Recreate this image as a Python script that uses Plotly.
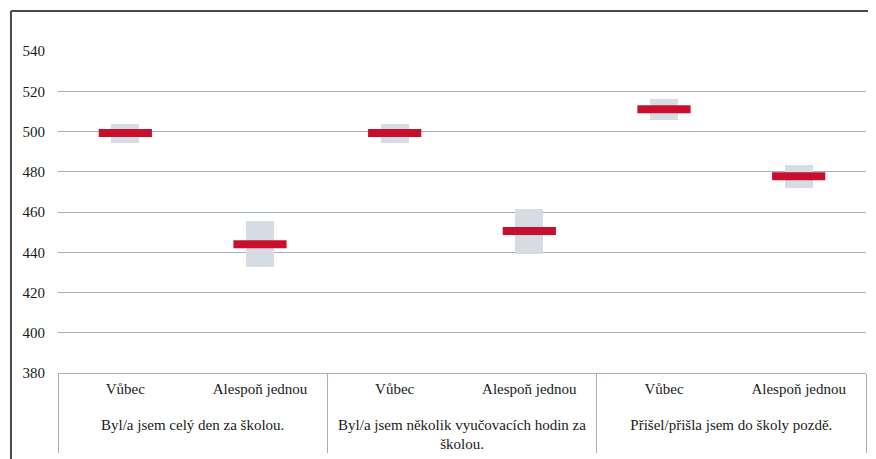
import plotly.graph_objects as go

groups = ["Byl/a jsem celý den za školou.",
          "Byl/a jsem několik vyučovacích hodin za<br>školou.",
          "Přišel/přišla jsem do školy pozdě."]
subs = ["Vůbec", "Alespoň jednou"]

means = [499.3, 444.0, 499.3, 450.5, 511.0, 477.8]
lower = [494.5, 432.5, 494.5, 439.0, 505.8, 471.8]
upper = [503.7, 455.5, 503.7, 461.5, 516.2, 483.6]

x_groups = [g for g in groups for _ in subs]
x_subs = [s + "<br> " for _ in groups for s in subs]

GRID = "#a3aec2"
FONT = dict(family="Liberation Serif, Times New Roman, serif",
            size=15, color="#1a1a1a")

fig = go.Figure()
fig.add_trace(go.Bar(
    x=[x_groups, x_subs],
    y=[u - l for u, l in zip(upper, lower)],
    base=lower,
    width=0.21,
    marker=dict(color="#d5dce4", line=dict(width=0)),
    hoverinfo="skip",
    showlegend=False,
))
fig.add_trace(go.Scatter(
    x=[x_groups, x_subs],
    y=means,
    mode="markers",
    marker=dict(symbol="line-ew", size=38, line=dict(width=8, color="#c8102e")),
    showlegend=False,
))

fig.update_layout(
    width=868, height=451,
    margin=dict(l=50, r=10, t=43, b=86),
    paper_bgcolor="white", plot_bgcolor="white",
    font=FONT,
    bargap=0,
    xaxis=dict(
        type="multicategory",
        automargin=False,
        showgrid=False,
        showline=True, linecolor=GRID, linewidth=1,
        showdividers=True, dividercolor=GRID, dividerwidth=1,
        ticks="", ticklabelstandoff=2,
        tickfont=FONT,
    ),
    yaxis=dict(
        range=[380, 540],
        automargin=False,
        tickvals=[380, 400, 420, 440, 460, 480, 500, 520, 540],
        showgrid=True, gridcolor=GRID, gridwidth=1,
        zeroline=False, showline=False,
        ticks="", ticklabelstandoff=12,
        tickfont=FONT,
    ),
    shapes=[
        dict(type="line", xref="paper", yref="paper",
             x0=-0.0582, x1=-0.0582, y0=-0.3, y1=1.1242,
             line=dict(color="#4a4a4a", width=2)),
        dict(type="line", xref="paper", yref="paper",
             x0=-0.0582, x1=1.03, y0=1.1242, y1=1.1242,
             line=dict(color="#4a4a4a", width=2)),
    ],
)

fig.write_html("out.html")
